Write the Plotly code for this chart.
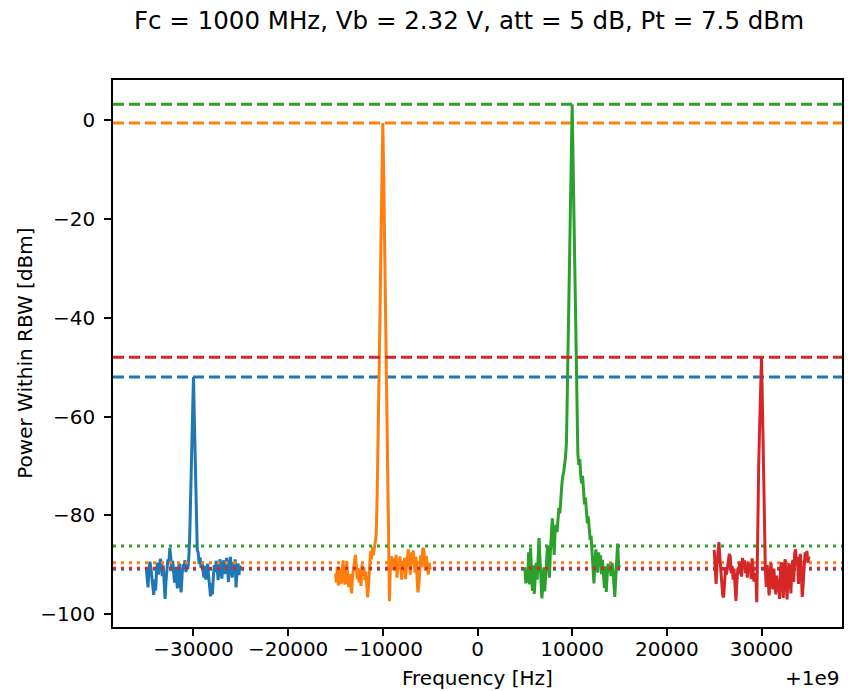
import numpy as np
import plotly.graph_objects as go

# Spectrum analyser sweeps around a 1 GHz carrier (offsets in Hz, power in dBm per RBW)
bin_step = 100
window_starts = [-35000, -15000, 5000, 25000]
window_stops = [-25000, -5000, 15000, 35000]

p_m30k = [
    -90.5, -92.8, -94.6, -91.0, -89.4, -90.6, -92.9, -95.5, -96.1, -93.0,
    -95.2, -91.4, -89.6, -92.0, -90.2, -88.8, -89.5, -92.3, -90.1, -94.4,
    -96.9, -93.2, -90.5, -88.9, -89.7, -86.6, -88.5, -91.3, -89.2, -91.8,
    -93.6, -90.4, -92.5, -94.8, -91.1, -89.7, -93.9, -95.6, -92.0, -89.9,
    -90.8, -89.1, -91.5, -89.6, -90.9, -88.7, -84.5, -76.0, -68.0, -60.0,
    -52.0,
    -61.0, -70.0, -79.0, -87.0, -87.6, -89.9, -88.5, -90.7, -89.3, -91.4,
    -92.6, -90.2, -93.0, -91.0, -89.8, -92.2, -94.9, -96.4, -93.7, -96.0,
    -92.4, -90.1, -91.5, -89.2, -90.6, -93.1, -91.2, -88.9, -90.3, -92.8,
    -90.5, -89.1, -91.9, -90.0, -88.6, -90.7, -93.5, -89.8, -88.4, -90.9,
    -92.6, -89.5, -90.8, -88.9, -94.6, -91.3, -89.7, -92.1, -90.2, -91.0,
]

p_m10k = [
    -91.8, -93.6, -90.4, -94.2, -92.1, -90.8, -93.9, -91.2, -89.1, -92.7,
    -94.0, -91.5, -89.3, -93.2, -94.5, -91.9, -93.8, -95.8, -92.4, -90.6,
    -89.0, -88.0, -90.2, -92.9, -90.7, -93.6, -91.0, -94.3, -89.9, -92.2,
    -90.5, -93.1, -91.4, -93.8, -96.6, -94.1, -89.2, -87.3, -88.9, -86.4,
    -88.1, -87.0, -85.2, -84.0, -76.0, -66.0, -54.0, -40.0, -25.0, -11.0,
    -0.6,
    -12.0, -27.0, -44.0, -60.0, -74.0, -86.0, -97.4, -90.2, -88.3, -89.5,
    -91.1, -88.7, -90.6, -88.0, -92.6, -89.4, -90.9, -88.3, -91.8, -93.0,
    -89.2, -91.5, -88.6, -92.9, -90.3, -88.8, -86.9, -89.6, -92.0, -87.5,
    -89.9, -87.1, -90.4, -91.6, -88.4, -93.4, -95.6, -94.2, -90.0, -88.1,
    -90.5, -87.0, -86.6, -89.3, -91.2, -88.2, -90.7, -92.0, -89.6, -91.0,
]

p_p10k = [
    -90.5, -93.8, -91.0, -93.6, -87.5, -94.0, -86.6, -92.8, -95.3, -90.1,
    -95.9, -92.4, -89.6, -93.0, -86.8, -84.6, -88.9, -92.7, -96.8, -94.3,
    -90.5, -95.4, -91.2, -87.6, -86.1, -89.3, -92.6, -87.2, -83.5, -80.6,
    -84.7, -88.0, -83.0, -81.9, -83.4, -80.2, -78.5, -79.6, -76.2, -74.0,
    -72.1, -71.4, -69.7, -68.2, -65.0, -54.0, -43.0, -31.0, -20.0, -8.5,
    3.2,
    -9.0, -21.0, -34.0, -47.0, -60.0, -67.5, -69.8, -68.6, -71.9, -73.5,
    -72.0, -75.3, -77.8, -76.4, -79.9, -81.6, -80.2, -83.6, -85.0, -84.1,
    -87.9, -90.8, -93.8, -89.4, -86.9, -88.7, -91.6, -87.5, -90.2, -88.1,
    -91.9, -89.0, -92.6, -94.7, -90.3, -95.5, -92.0, -89.8, -91.4, -90.1,
    -92.3, -89.6, -91.0, -93.2, -96.5, -92.8, -88.2, -85.7, -89.9, -90.6,
]

p_p30k = [
    -87.0, -89.5, -93.9, -90.0, -86.3, -85.4, -88.5, -91.9, -94.8, -96.2,
    -96.6, -92.3, -90.5, -92.0, -90.1, -89.2, -87.8, -88.4, -91.7, -90.2,
    -93.0, -90.8, -94.1, -97.3, -93.5, -90.7, -91.9, -89.3, -90.6, -92.4,
    -88.6, -90.4, -89.1, -91.7, -90.0, -92.6, -89.4, -91.2, -89.8, -92.9,
    -88.7, -90.9, -93.4, -92.0, -92.0, -97.6, -80.0, -70.0, -62.0, -54.0,
    -48.0,
    -58.0, -72.0, -86.0, -90.8, -94.5, -90.0, -92.9, -96.2, -93.1, -89.6,
    -92.5, -95.0, -90.8, -93.7, -96.0, -92.2, -95.4, -93.0, -96.9, -91.3,
    -89.5, -94.2, -96.7, -90.1, -88.9, -93.8, -97.0, -91.6, -89.7, -92.4,
    -95.8, -91.0, -89.0, -93.5, -87.6, -86.9, -90.3, -88.4, -93.9, -89.2,
    -87.8, -91.5, -96.5, -94.0, -89.0, -87.5, -88.8, -87.2, -89.6, -88.3,
]

peak_levels = [-52.0, -0.6, 3.2, -48.0]
floor_levels = [-90.9, -89.6, -86.2, -90.7]
colors = ["#1f77b4", "#ff7f0e", "#2ca02c", "#d62728"]
spectra = [p_m30k, p_m10k, p_p10k, p_p30k]

x_lo, x_hi = -38500, 38500
x_ticks = [-30000, -20000, -10000, 0, 10000, 20000, 30000]
y_ticks = [-100, -80, -60, -40, -20, 0]


def tick_label(v):
    # plain integers with a typographic minus, no thousands separator
    return f"{v:d}".replace("-", "\u2212")


fig = go.Figure()
for start, stop, power, pk, fl, c in zip(window_starts, window_stops, spectra,
                                          peak_levels, floor_levels, colors):
    freq = np.arange(start, stop + bin_step, bin_step)
    fig.add_trace(go.Scatter(x=freq, y=power, mode="lines",
                             line=dict(color=c, width=3)))
    fig.add_trace(go.Scatter(x=[x_lo, x_hi], y=[pk, pk], mode="lines",
                             line=dict(color=c, width=3, dash="11px,5px")))
    fig.add_trace(go.Scatter(x=[x_lo, x_hi], y=[fl, fl], mode="lines",
                             line=dict(color=c, width=3, dash="3px,5px")))

axis_style = dict(showline=True, linecolor="black", linewidth=1.6, mirror=True,
                  ticks="outside", ticklen=7, tickwidth=1.6, tickcolor="black",
                  showgrid=False, zeroline=False)

# plot area spans x 113..844 px and y 80..627 px
plot_w, plot_h = 731, 547

fig.update_layout(
    width=848, height=691,
    margin=dict(l=113, r=4, t=80, b=64),
    paper_bgcolor="white", plot_bgcolor="white",
    font=dict(family="DejaVu Sans", size=20, color="black"),
    showlegend=False,
    title=dict(text="Fc = 1000 MHz, Vb = 2.32 V, att = 5 dB, Pt = 7.5 dBm",
               x=469 / 848, xanchor="center", y=1 - 20 / 691, yanchor="middle",
               xref="container", yref="container", font=dict(size=24.5)),
    xaxis=dict(range=[x_lo, x_hi], tickmode="array", tickvals=x_ticks,
               ticktext=[tick_label(v) for v in x_ticks], ticklabelstandoff=-4,
               **axis_style),
    yaxis=dict(range=[-102.6, 8.1], tickmode="array", tickvals=y_ticks,
               ticktext=[tick_label(v) for v in y_ticks], ticklabelstandoff=5,
               **axis_style),
    annotations=[
        dict(text="Frequency [Hz]", x=0.5, y=(627 - 678) / plot_h, xref="paper",
             yref="paper", xanchor="center", yanchor="middle",
             showarrow=False, font=dict(size=20)),
        dict(text="+1e9", x=1.0, y=(627 - 678) / plot_h, xref="paper",
             yref="paper", xanchor="right", yanchor="middle",
             showarrow=False, font=dict(size=20)),
        dict(text="Power Within RBW [dBm]", x=(24 - 113) / plot_w, y=0.5,
             xref="paper", yref="paper", xanchor="center", yanchor="middle",
             textangle=-90, showarrow=False, font=dict(size=20)),
    ],
)

fig.write_html("out.html")
